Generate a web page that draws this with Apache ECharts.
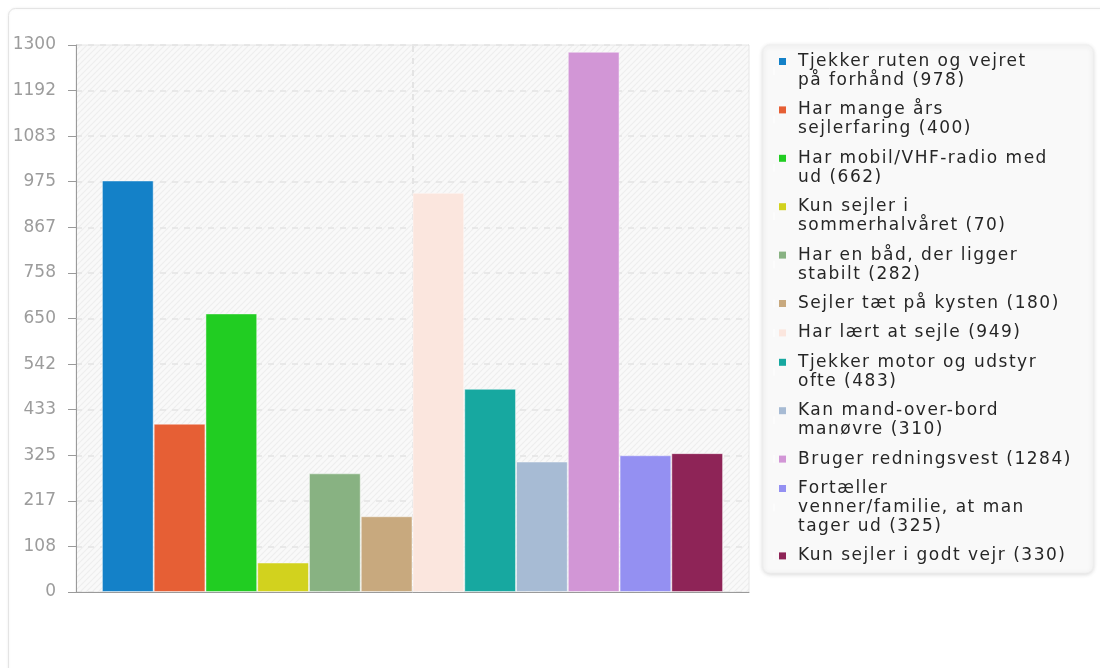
<!DOCTYPE html>
<html><head><meta charset="utf-8">
<script src="https://cdn.jsdelivr.net/npm/echarts@6/dist/echarts.min.js"></script>
<style>
html,body{margin:0;padding:0;background:#fff;overflow:hidden;}
#chart{position:absolute;left:0;top:0;width:1100px;height:668px;}
</style></head><body>
<div id="chart"></div>
<script>
// ---- data ----
const categories = [''];
const names = [
  'Tjekker ruten og vejret\npå forhånd',
  'Har mange års\nsejlerfaring',
  'Har mobil/VHF-radio med\nud',
  'Kun sejler i\nsommerhalvåret',
  'Har en båd, der ligger\nstabilt',
  'Sejler tæt på kysten',
  'Har lært at sejle',
  'Tjekker motor og udstyr\nofte',
  'Kan mand-over-bord\nmanøvre',
  'Bruger redningsvest',
  'Fortæller\nvenner/familie, at man\ntager ud',
  'Kun sejler i godt vejr'
];
const values = [978, 400, 662, 70, 282, 180, 949, 483, 310, 1284, 325, 330];
const colors = ['#1481c8','#e65f35','#21cd22','#d2d21e','#88b282','#c8a97e',
                '#fbe6de','#17a8a0','#a7bbd4','#d296d6','#9490f2','#8e2457'];
const yMax = 1300;
const ySplits = 12;

// letter spacing for legend text (legend font family includes sans-serif marker)
(function(){
  const proto = CanvasRenderingContext2D.prototype;
  const orig = proto.fillText;
  proto.fillText = function(){
    if (/sans-serif/.test(this.font) && ('letterSpacing' in this)) {
      const prev = this.letterSpacing;
      this.letterSpacing = '1.5px';
      const r = orig.apply(this, arguments);
      this.letterSpacing = prev;
      return r;
    }
    return orig.apply(this, arguments);
  };
})();

// hatched background pattern
function makeHatch(){
  const c = document.createElement('canvas');
  c.width = 6; c.height = 6;
  const g = c.getContext('2d');
  g.fillStyle = '#f9f9f9'; g.fillRect(0,0,6,6);
  g.strokeStyle = '#eeeeee'; g.lineWidth = 1.2;
  g.beginPath();
  g.moveTo(-1,7); g.lineTo(7,-1);
  g.moveTo(-4,4); g.lineTo(4,-4);
  g.moveTo(2,10); g.lineTo(10,2);
  g.stroke();
  return c;
}

const LH = 19;
const rich = {
  t: {fontFamily: 'DejaVu Sans, sans-serif', fontSize: 17, color: '#262626', lineHeight: LH},
  gap: {width: 12, height: 7},
  ind: {width: 19, height: 7}
};
colors.forEach((c, i) => {
  rich['s' + i] = {width: 7, height: 7, backgroundColor: c, verticalAlign: 'middle', lineHeight: LH};
});

const series = names.map((n, i) => ({
  name: n,
  type: 'bar',
  data: [values[i]],
  barGap: '0%',
  barCategoryGap: '7.7%',
  itemStyle: {color: colors[i], borderColor: 'rgba(255,255,255,0.45)', borderWidth: 1},
  emphasis: {disabled: true}
}));
// helper series only to carry the dashed centre line of the category
series.push({
  name: '__centre',
  type: 'line',
  data: ['-'],
  silent: true,
  symbol: 'none',
  z: 1,
  markLine: {
    silent: true, symbol: 'none', z: 1, animation: false,
    label: {show: false},
    lineStyle: {color: '#e4e4e4', type: [6, 6], width: 2},
    data: [{xAxis: 0}]
  }
});

const chart = echarts.init(document.getElementById('chart'), null, {renderer: 'canvas'});
chart.setOption({
  animation: false,
  backgroundColor: '#fff',
  grid: {
    left: 76, right: 351, top: 45, bottom: 76,
    show: true,
    backgroundColor: {image: makeHatch(), repeat: 'repeat'},
    borderColor: '#e6e6e6', borderWidth: 1
  },
  xAxis: {
    type: 'category',
    data: categories,
    axisLine: {show: true, lineStyle: {color: '#9a9a9a', width: 1}},
    axisTick: {show: false},
    axisLabel: {show: false},
    splitLine: {show: false}
  },
  yAxis: {
    type: 'value',
    min: 0, max: yMax, interval: yMax / ySplits,
    axisLine: {show: true, lineStyle: {color: '#9a9a9a', width: 1}},
    axisTick: {show: true, length: 8, lineStyle: {color: '#9a9a9a'}},
    axisLabel: {
      margin: 20, color: '#9c9c9c', fontSize: 17, fontFamily: 'DejaVu Sans',
      formatter: v => String(Math.round(v))
    },
    splitLine: {show: true, lineStyle: {color: '#e4e4e4', type: [6, 6], width: 1.5}}
  },
  graphic: [{
    type: 'rect', z: -10, silent: true,
    shape: {x: 8.5, y: 8.5, width: 1300, height: 900, r: 7},
    style: {fill: '#fff', stroke: '#e4e4e4', lineWidth: 1,
            shadowBlur: 3, shadowColor: 'rgba(0,0,0,0.06)'}
  }, {
    type: 'rect', z: -1, silent: true,
    shape: {x: 763, y: 45, width: 330, height: 528, r: 7},
    style: {fill: '#f9f9f9', stroke: '#f0f0f0', lineWidth: 1,
            shadowBlur: 4, shadowColor: 'rgba(0,0,0,0.15)', shadowOffsetY: 1}
  }],
  legend: {
    orient: 'vertical',
    left: 773, top: 52,
    itemWidth: 0, itemHeight: 8,
    itemGap: 10.4,
    selectedMode: false,
    icon: 'rect',
    padding: 0,
    data: names,
    textStyle: {fontFamily: 'DejaVu Sans, sans-serif', fontSize: 17, color: '#262626', lineHeight: LH, rich: rich},
    formatter: function(name){
      const i = names.indexOf(name);
      const lines = name.split('\n');
      lines[lines.length - 1] += ' (' + values[i] + ')';
      return lines.map((l, k) => (k === 0 ? '{s' + i + '|}{gap|}' : '{ind|}') + '{t|' + l + '}').join('\n');
    }
  },
  series: series
});
</script>
</body></html>
